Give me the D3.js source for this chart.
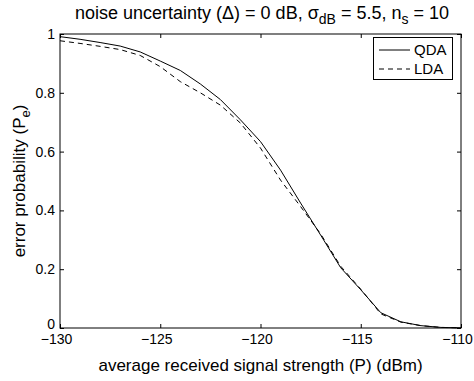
<!DOCTYPE html>
<html>
<head>
<meta charset="utf-8">
<script src="https://cdn.jsdelivr.net/npm/d3@7"></script>
<style>
  body { margin: 0; background: #fff; }
  text { font-family: "Liberation Sans", Arial, sans-serif; fill: #000; }
</style>
</head>
<body>
<div id="chart"></div>
<script>
// signal strength (dBm), one point per dB
let power = [-130, -129, -128, -127, -126, -125, -124, -123, -122, -121, -120,
             -119, -118, -117, -116, -115, -114, -113, -112, -111, -110];
// error probability
let qda = [0.991, 0.982, 0.971, 0.959, 0.939, 0.908, 0.876, 0.830, 0.777, 0.708, 0.634,
           0.537, 0.425, 0.316, 0.205, 0.130, 0.052, 0.021, 0.008, 0.002, 0.0005];
let lda = [0.977, 0.968, 0.958, 0.947, 0.927, 0.889, 0.838, 0.800, 0.758, 0.697, 0.612,
           0.503, 0.413, 0.320, 0.210, 0.132, 0.048, 0.020, 0.008, 0.002, 0.0005];
let xTicks = [-130, -125, -120, -115, -110];
let yTicks = [0, 0.2, 0.4, 0.6, 0.8, 1];

let width = 474, height = 381;
let pLeft = 60, pRight = 461, pTop = 34, pBottom = 328;

let svg = d3.select("#chart").append("svg")
  .attr("width", width).attr("height", height);

let x = d3.scaleLinear().domain([-130, -110]).range([pLeft, pRight]);
let y = d3.scaleLinear().domain([0, 1]).range([pBottom, pTop]);

// minus sign like matlab
let fmtX = d => (d < 0 ? "\u2212" + Math.abs(d) : d);

// axes with inward ticks on all four sides
function box(g, axis) {
  g.call(axis);
  g.select(".domain").remove();
  g.selectAll("line").attr("stroke", "#000");
  g.selectAll("text").style("font-size", "14px").style("font-family", "Liberation Sans, Arial, sans-serif");
}
svg.append("g").attr("transform", "translate(0," + pBottom + ")")
  .call(g => box(g, d3.axisBottom(x).tickValues(xTicks).tickSizeInner(-4).tickSizeOuter(0).tickPadding(6).tickFormat(fmtX)))
  .selectAll("text").attr("dx", -4);   // digits sit on the tick, minus hangs left
svg.append("g").attr("transform", "translate(0," + pTop + ")")
  .call(g => box(g, d3.axisTop(x).tickValues(xTicks).tickSizeInner(-4).tickSizeOuter(0).tickFormat("")));
svg.append("g").attr("transform", "translate(" + pLeft + ",0)")
  .call(g => box(g, d3.axisLeft(y).tickValues(yTicks).tickSizeInner(-4).tickSizeOuter(0).tickPadding(5).tickFormat(d => d)))
  .selectAll("text").filter(d => d === 0).attr("dy", "0.02em");
svg.append("g").attr("transform", "translate(" + pRight + ",0)")
  .call(g => box(g, d3.axisRight(y).tickValues(yTicks).tickSizeInner(-4).tickSizeOuter(0).tickFormat("")));

svg.append("rect")
  .attr("x", pLeft).attr("y", pTop)
  .attr("width", pRight - pLeft).attr("height", pBottom - pTop)
  .attr("fill", "none").attr("stroke", "#000").attr("stroke-width", 1);

let line = d3.line().x((d, i) => x(power[i])).y(d => y(d));

svg.append("path").datum(qda)
  .attr("d", line).attr("fill", "none").attr("stroke", "#000").attr("stroke-width", 1);
svg.append("path").datum(lda)
  .attr("d", line).attr("fill", "none").attr("stroke", "#000").attr("stroke-width", 1)
  .attr("stroke-dasharray", "5,4");

// legend
let lg = svg.append("g");
lg.append("rect").attr("x", 373.5).attr("y", 37.5).attr("width", 79).attr("height", 42)
  .attr("fill", "#fff").attr("stroke", "#000");
lg.append("line").attr("x1", 379).attr("x2", 410).attr("y1", 50).attr("y2", 50).attr("stroke", "#000");
lg.append("line").attr("x1", 379).attr("x2", 410).attr("y1", 69).attr("y2", 69).attr("stroke", "#000")
  .attr("stroke-dasharray", "5,4");
lg.append("text").attr("x", 414).attr("y", 55).style("font-size", "15px").text("QDA");
lg.append("text").attr("x", 414).attr("y", 74).style("font-size", "15px").text("LDA");

// title with subscripts
let title = svg.append("text").attr("x", 262).attr("y", 19).attr("text-anchor", "middle")
  .style("font-size", "18px");
title.append("tspan").text("noise uncertainty (\u0394) = 0 dB, \u03c3");
title.append("tspan").attr("dy", 5).style("font-size", "14px").text("dB");
title.append("tspan").attr("dy", -5).text(" = 5.5, n");
title.append("tspan").attr("dy", 5).style("font-size", "14px").text("s");
title.append("tspan").attr("dy", -5).text(" = 10");

svg.append("text").attr("x", (pLeft + pRight) / 2).attr("y", 371).attr("text-anchor", "middle")
  .style("font-size", "17px").text("average received signal strength (P) (dBm)");

let yl = svg.append("text").attr("transform", "translate(25," + ((pTop + pBottom) / 2) + ") rotate(-90)")
  .attr("text-anchor", "middle").style("font-size", "17px");
yl.append("tspan").text("error probability (P");
yl.append("tspan").attr("dy", 5).style("font-size", "13px").text("e");
yl.append("tspan").attr("dy", -5).text(")");
</script>
</body>
</html>
